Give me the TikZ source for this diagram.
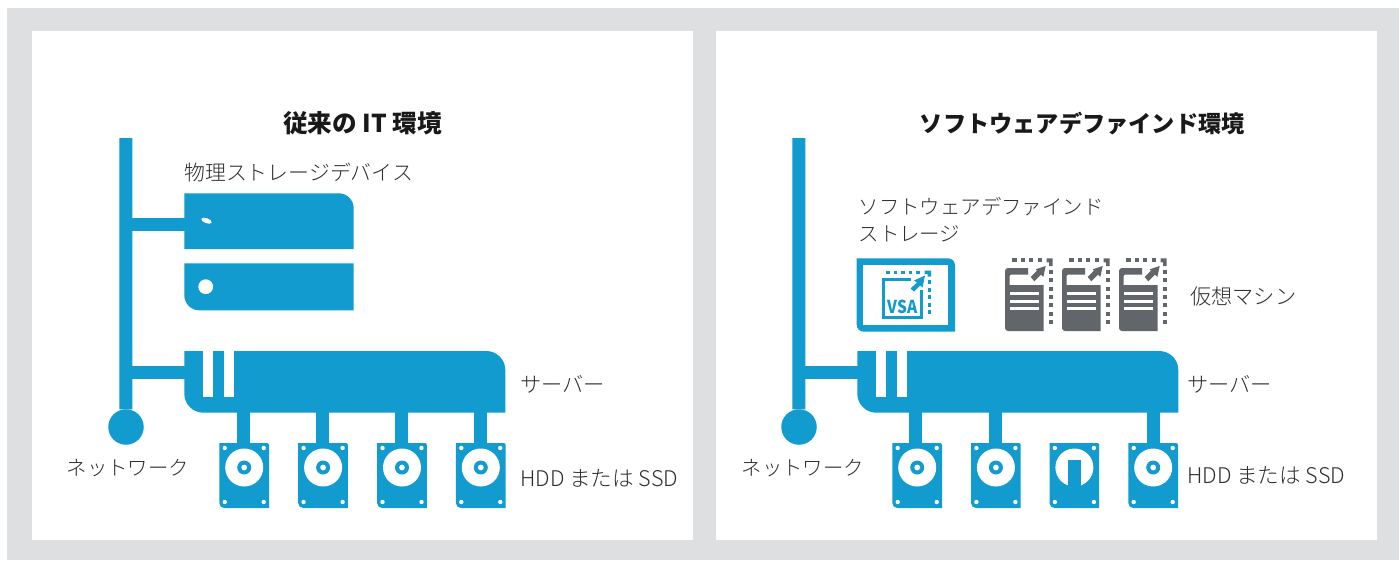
\documentclass[tikz,border=0pt]{standalone}
\usepackage{fontspec}
\setmainfont{Noto Sans CJK JP}[UprightFont=* Light]
\newfontfamily\heavyjp{Noto Sans CJK JP Black}
\definecolor{hpblue}{HTML}{129BCE}
\definecolor{vmgray}{HTML}{62666B}
\definecolor{panelgray}{HTML}{DEDFE1}
\definecolor{inktext}{HTML}{2E2E2E}
\tikzset{
  x=1pt,y=-1pt,
  linkline/.style={draw=hpblue,line width=13pt},
  anchorbox/.style={rectangle,inner sep=0pt,outer sep=0pt,minimum width=#1},
  netdot/.style={circle,fill=hpblue,inner sep=0pt,outer sep=0pt,minimum size=35.5pt},
  label/.style={anchor=west,inner sep=0pt,text=inktext,font=\fontsize{21.2}{25}\selectfont},
  titletext/.style={inner sep=0pt,text=black!90,font=\heavyjp\fontsize{#1}{#1}\selectfont},
}
% disk icon: name, left x, with hub
\newcommand\diskshape[2]{%
  \node[anchorbox=49.7pt,minimum height=64.7pt] (#1) at (#2+24.85,475.65) {};
  \fill[hpblue] (#2,443) [rounded corners=2pt] -- (#2+49.7,443) [sharp corners] -- (#2+49.7,508) [rounded corners=5pt] -- (#2,508) [sharp corners] -- cycle;
  \foreach \dx in {5.4,44.4}\foreach \dy in {448,502}
    \fill[white] (#2+\dx,\dy) circle (2.2);
  \fill[white] (#2+24.9,467.5) circle (19);
}
\newcommand\diskhub[1]{%
  \fill[hpblue] (#1+24.9,467.5) circle (7);
  \fill[white] (#1+24.9,467.5) circle (2.9);
}
% connector from a server's lower edge to a disk: server, disk, sideways offset
\newcommand\disklink[3]{%
  \draw[linkline] ([xshift=#3pt,yshift=2pt]#2.north |- #1.south) -- ([xshift=#3pt,yshift=-0.5pt]#2.north);
}
% virtual machine icon at left x
\newcommand\vmicon[2]{%
  \node[anchorbox=39pt,minimum height=63pt] (#1) at (#2+19.5,299.5) {};
  \fill[vmgray] (#2+23,268) [rounded corners=3pt] -- (#2,268) -- (#2,331) [sharp corners] -- (#2+38.5,331) -- (#2+38.5,285) -- (#2+4.5,285) [rounded corners=2pt] -- (#2+4.5,274.5) [sharp corners] -- (#2+23,274.5) -- cycle;
  \foreach \ly in {293,301,308.7}
    \fill[white] (#2+4.5,\ly-1.5) rectangle (#2+34,\ly+1.5);
  \fill[vmgray] (#2+25.7,277) -- (#2+32,270.6) -- (#2+30.7,269.3) -- (#2+40.7,266) -- (#2+38.3,277) -- (#2+36,274.6) -- (#2+29.3,281.3) -- cycle;
  \foreach \sx in {7.3,15.7,24.1,32.5}
    \fill[vmgray] (#2+\sx,258.3) rectangle (#2+\sx+4.3,262.3);
  \fill[vmgray] (#2+41.7,258.3) -- (#2+47.7,258.3) -- (#2+47.7,266) -- (#2+44,266) -- (#2+44,262.3) -- (#2+41.7,262.3) -- cycle;
  \foreach \sy in {272,280,288.5,297,305,313.5,322}
    \fill[vmgray] (#2+44,\sy-2) rectangle (#2+47.7,\sy+2);
}
\begin{document}
\begin{tikzpicture}
\useasboundingbox (0,0) rectangle (1399,560);
\fill[panelgray] (7,8) rectangle (1399,560);
\node[fill=white,inner sep=0pt,minimum width=661pt,minimum height=509pt] (leftpanel) at (362.5,285.5) {};
\node[fill=white,inner sep=0pt,minimum width=661pt,minimum height=509pt] (rightpanel) at (1046.5,285.5) {};

% ---------- left panel ----------
\node[titletext=24.6] (ltitle) at (362.5,123.5) {従来の IT 環境};
\coordinate (ltop) at (125.8,138);
\node[netdot] (lnet) at (126,427) {};
\node[anchorbox=321pt,minimum height=62pt] (lsrv) at (344.8,381.8) {};
\node[anchorbox=169.4pt,minimum height=55.7pt] (lst1) at (269,221.2) {};
\node[anchorbox=169.4pt,minimum height=47pt] (lst2) at (269,286.8) {};
\coordinate (lst1port) at (186,224.2);
\coordinate (lsrvport) at (186,372);
\diskshape{ld1}{219.3}\diskhub{219.3}
\diskshape{ld2}{298.2}\diskhub{298.2}
\diskshape{ld3}{377.1}\diskhub{377.1}
\diskshape{ld4}{455.9}\diskhub{455.9}
\draw[linkline] (ltop) -- (lnet);
\draw[linkline] (lst1port) -- (lst1port -| ltop);
\draw[linkline] (lsrvport) -- (lsrvport -| ltop);
\disklink{lsrv}{ld1}{-0.7}
\disklink{lsrv}{ld2}{-0.6}
\disklink{lsrv}{ld3}{-0.5}
\disklink{lsrv}{ld4}{-0.3}
% storage boxes
\fill[hpblue] (184.3,193.3) [rounded corners=15pt] -- (353.7,193.3) [sharp corners] -- (353.7,249) -- (184.3,249) -- cycle;
\fill[white,rotate around={-20:(206.5,220.7)}] (206.5,220.7) ellipse (5.5 and 2.5);
\fill[hpblue] (184.3,263.3) -- (353.7,263.3) -- (353.7,310.3) [rounded corners=15pt] -- (184.3,310.3) [sharp corners] -- cycle;
\fill[white] (205.7,286.7) circle (7.4);
% server
\fill[hpblue] (184.3,351) [sharp corners] -- (486,351) [rounded corners=19pt] -- (505.3,351) [sharp corners] -- (505.3,412.7) [rounded corners=19pt] -- (184.3,412.7) [sharp corners] -- cycle;
\fill[white] (203.4,351) rectangle (213.3,397);
\fill[white] (224,351) rectangle (233.7,397);
\node[label,font=\fontsize{20.9}{25}\selectfont] (lstorage) at (184,172.5) {物理ストレージデバイス};
\node[label] (lserver) at (520,384) {サーバー};
\node[label,font=\fontsize{20.4}{25}\selectfont] (lnetlabel) at (66.5,468.5) {ネットワーク};
\node[label,font=\fontsize{21.6}{25}\selectfont] (lhdd) at (520,478) {HDD または SSD};

% ---------- right panel ----------
\node[titletext=23.2] (rtitle) at (1082.3,123.5) {ソフトウェアデファインド環境};
\coordinate (rtop) at (798.8,138);
\node[netdot] (rnet) at (799,427) {};
\node[anchorbox=321pt,minimum height=62pt] (rsrv) at (1017.8,381.8) {};
\coordinate (rsrvport) at (859,372);
\diskshape{rd1}{892.3}\diskhub{892.3}
\diskshape{rd2}{971.0}\diskhub{971.0}
\diskshape{rd3}{1049.5}
\fill[hpblue] (1067.8,460) rectangle (1081,490);
\diskshape{rd4}{1128.3}\diskhub{1128.3}
\draw[linkline] (rtop) -- (rnet);
\draw[linkline] (rsrvport) -- (rsrvport -| rtop);
\disklink{rsrv}{rd1}{-1.6}
\disklink{rsrv}{rd2}{-0.4}
\disklink{rsrv}{rd4}{0.3}
\fill[hpblue] (857.3,351) -- (1159,351) [rounded corners=19pt] -- (1178.3,351) [sharp corners] -- (1178.3,412.7) [rounded corners=19pt] -- (857.3,412.7) [sharp corners] -- cycle;
\fill[white] (876.4,351) rectangle (886.3,397);
\fill[white] (897,351) rectangle (906.7,397);
% VSA box
\node[anchorbox=98.3pt,minimum height=73.4pt] (vsa) at (905.9,295) {};
\fill[hpblue] (856.7,258.3) [rounded corners=7pt] -- (955,258.3) [sharp corners] -- (955,331.7) [rounded corners=7pt] -- (856.7,331.7) [sharp corners] -- cycle;
\fill[white] (863.3,265) rectangle (947.7,324.5);
\draw[hpblue,line width=3.2pt,line join=miter] (911,279.2) -- (883.6,279.2) -- (883.6,317.6) -- (921.2,317.6) -- (921.2,290);
\foreach \sx in {888,895.5,903,910.5,918}
  \fill[hpblue] (\sx-1.9,270.5) rectangle (\sx+1.9,274);
\fill[hpblue] (924.5,270.5) -- (931.2,270.5) -- (931.2,276.5) -- (927.7,276.5) -- (927.7,274) -- (924.5,274) -- cycle;
\foreach \sy in {282,289.5,297,304.5,312}
  \fill[hpblue] (927.7,\sy-2) rectangle (931.2,\sy+2);
\fill[hpblue] (910.5,288.5) -- (917,282.5) -- (914,280.5) -- (925,275.5) -- (922.5,287.5) -- (920,285.5) -- (914,291.5) -- cycle;
\node[inner sep=0pt,text=hpblue,transform shape,xscale=0.87] (vsatext) at (902.7,306.7) {\fontsize{17.8}{17.8}\selectfont\heavyjp VSA};
\vmicon{vm1}{1005}
\vmicon{vm2}{1062}
\vmicon{vm3}{1119}
\node[label,align=left,anchor=north west,font=\fontsize{20.4}{27}\selectfont] (rsds) at (858.5,197.5) {ソフトウェアデファインド\\ストレージ};
\node[label] (rvm) at (1190,296.5) {仮想マシン};
\node[label] (rserver) at (1187,384) {サーバー};
\node[label,font=\fontsize{20.4}{25}\selectfont] (rnetlabel) at (741.5,468.5) {ネットワーク};
\node[label,font=\fontsize{21.6}{25}\selectfont] (rhdd) at (1187,475) {HDD または SSD};
\end{tikzpicture}
\end{document}
